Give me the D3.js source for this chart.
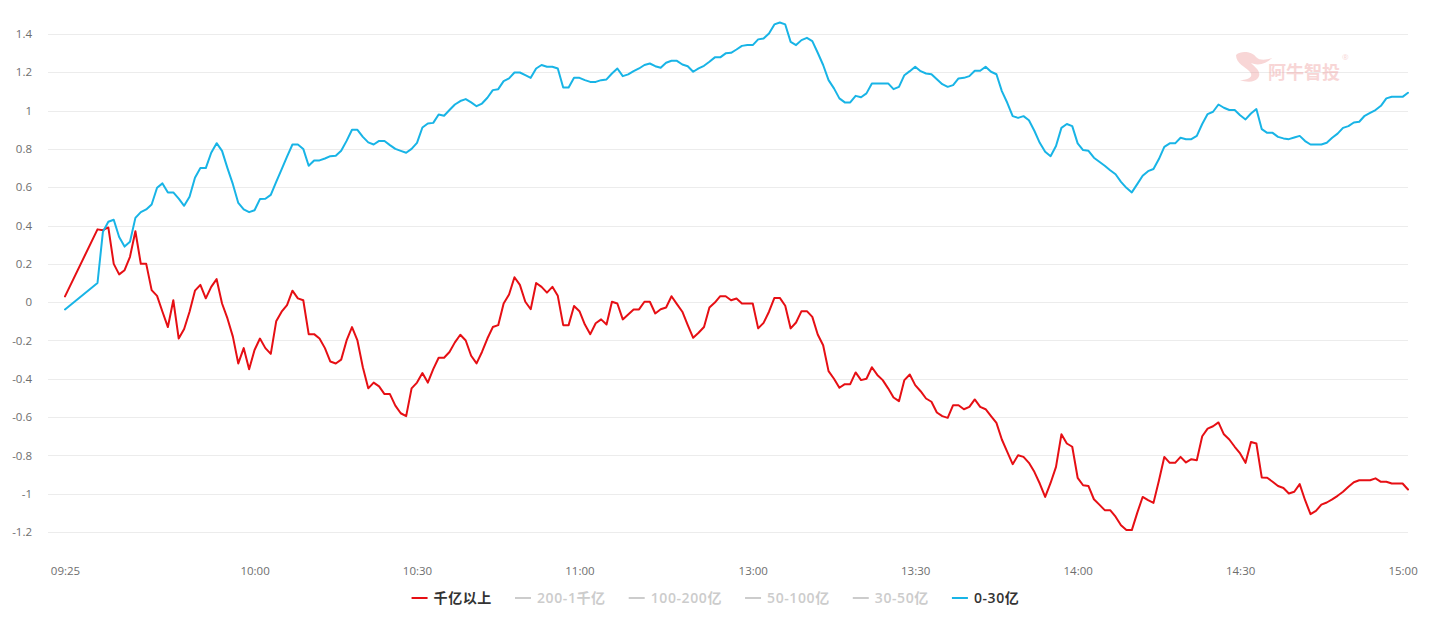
<!DOCTYPE html>
<html><head><meta charset="utf-8">
<script src="https://cdn.jsdelivr.net/npm/d3@7"></script>
<style>body{margin:0;background:#fff}svg{display:block}</style>
</head><body>
<svg id="chart" width="1433" height="623"></svg>
<script>
// ---------- data ----------
const seriesNames = ["千亿以上", "200-1千亿", "100-200亿", "50-100亿", "30-50亿", "0-30亿"];
const seriesActive = [true, false, false, false, false, true];
const seriesColors = ["#e60f14", "#cccccc", "#cccccc", "#cccccc", "#cccccc", "#18b4e6"];

const yTicks = [1.4, 1.2, 1, 0.8, 0.6, 0.4, 0.2, 0, -0.2, -0.4, -0.6, -0.8, -1, -1.2];
const xTickLabels = ["09:25", "10:00", "10:30", "11:00", "13:00", "13:30", "14:00", "14:30", "15:00"];
const xTickSlots = [0, 35, 65, 95, 127, 157, 187, 217, 247];
const slotCount = 249; // minute slots 0..248

// 千亿以上 (one value per minute slot; null = no point)
const bigCap = [0.03, null, null, null, null, null,
  0.38, 0.376, 0.39, 0.20, 0.145, 0.167, 0.237, 0.37, 0.20, 0.20,
  0.063, 0.033, -0.05, -0.13, 0.01, -0.19, -0.14, -0.05, 0.06, 0.09,
  0.02, 0.08, 0.12, -0.007, -0.085, -0.18, -0.32, -0.24, -0.35, -0.25,
  -0.19, -0.24, -0.27, -0.10, -0.05, -0.016, 0.06, 0.02, 0.01, -0.167,
  -0.167, -0.19, -0.24, -0.31, -0.32, -0.30, -0.20, -0.13, -0.20, -0.34,
  -0.45, -0.42, -0.44, -0.48, -0.48, -0.54, -0.58, -0.595, -0.45, -0.42,
  -0.37, -0.42, -0.35, -0.29, -0.29, -0.26, -0.21, -0.17, -0.20, -0.28,
  -0.32, -0.26, -0.19, -0.13, -0.12, -0.007, 0.04, 0.13, 0.09, 0.002,
  -0.037, 0.10, 0.08, 0.05, 0.08, 0.033, -0.12, -0.12, -0.02, -0.047,
  -0.117, -0.167, -0.11, -0.09, -0.117, 0.002, -0.007, -0.09, -0.064, -0.038,
  -0.038, 0.002, 0.002, -0.059, -0.037, -0.028, 0.031, -0.01, -0.05, -0.12,
  -0.186, -0.16, -0.13, -0.028, -0.002, 0.031, 0.031, 0.01, 0.019, -0.007,
  -0.007, -0.007, -0.137, -0.108, -0.05, 0.022, 0.022, -0.019, -0.137, -0.106,
  -0.047, -0.047, -0.077, -0.169, -0.225, -0.36, -0.40, -0.447, -0.428, -0.428,
  -0.367, -0.407, -0.40, -0.34, -0.38, -0.407, -0.45, -0.498, -0.517, -0.407,
  -0.378, -0.433, -0.465, -0.503, -0.52, -0.576, -0.595, -0.604, -0.538, -0.538,
  -0.559, -0.547, -0.508, -0.547, -0.559, -0.595, -0.63, -0.717, -0.782, -0.846,
  -0.799, -0.808, -0.839, -0.886, -0.947, -1.017, -0.944, -0.86, -0.69, -0.738,
  -0.755, -0.917, -0.956, -0.96, -1.029, -1.057, -1.086, -1.086, -1.12, -1.165,
  -1.19, -1.19, -1.10, -1.017, -1.034, -1.048, -0.933, -0.808, -0.839, -0.839,
  -0.808, -0.837, -0.82, -0.825, -0.70, -0.66, -0.648, -0.628, -0.69, -0.717,
  -0.755, -0.79, -0.839, -0.73, -0.738, -0.916, -0.917, -0.938, -0.96, -0.97,
  -0.999, -0.99, -0.95, -1.034, -1.107, -1.09, -1.057, -1.046, -1.03, -1.011,
  -0.99, -0.964, -0.94, -0.93, -0.93, -0.93, -0.92, -0.938, -0.938, -0.947,
  -0.947, -0.947, -0.978];

// 0-30亿
const smallCap = [-0.038, null, null, null, null, null,
  0.10, 0.367, 0.42, 0.43, 0.34, 0.29, 0.315, 0.44, 0.47, 0.484,
  0.51, 0.597, 0.62, 0.573, 0.573, 0.54, 0.503, 0.55, 0.65, 0.70,
  0.70, 0.78, 0.83, 0.79, 0.70, 0.616, 0.518, 0.484, 0.47, 0.48,
  0.538, 0.54, 0.56, 0.628, 0.693, 0.76, 0.823, 0.823, 0.80, 0.712,
  0.74, 0.74, 0.75, 0.762, 0.764, 0.79, 0.842, 0.90, 0.90, 0.863,
  0.834, 0.823, 0.842, 0.841, 0.82, 0.80, 0.79, 0.78, 0.80, 0.832,
  0.912, 0.933, 0.936, 0.98, 0.973, 1.003, 1.032, 1.05, 1.06, 1.043,
  1.023, 1.037, 1.067, 1.107, 1.112, 1.154, 1.168, 1.199, 1.199, 1.185,
  1.171, 1.22, 1.238, 1.229, 1.229, 1.22, 1.121, 1.121, 1.171, 1.171,
  1.159, 1.15, 1.15, 1.159, 1.163, 1.194, 1.22, 1.18, 1.189, 1.206,
  1.22, 1.238, 1.246, 1.232, 1.224, 1.25, 1.26, 1.26, 1.241, 1.232,
  1.203, 1.22, 1.234, 1.255, 1.278, 1.278, 1.299, 1.302, 1.319, 1.338,
  1.342, 1.342, 1.372, 1.377, 1.403, 1.45, 1.46, 1.45, 1.359, 1.342,
  1.368, 1.38, 1.363, 1.302, 1.238, 1.159, 1.116, 1.064, 1.043, 1.043,
  1.077, 1.07, 1.09, 1.142, 1.142, 1.142, 1.142, 1.112, 1.124, 1.185,
  1.206, 1.229, 1.206, 1.194, 1.19, 1.164, 1.138, 1.124, 1.133, 1.168,
  1.171, 1.18, 1.208, 1.208, 1.229, 1.203, 1.19, 1.102, 1.041, 0.971,
  0.962, 0.971, 0.95, 0.895, 0.832, 0.785, 0.762, 0.815, 0.91, 0.93,
  0.919, 0.829, 0.794, 0.79, 0.754, 0.733, 0.712, 0.689, 0.668, 0.628,
  0.597, 0.573, 0.616, 0.66, 0.684, 0.695, 0.747, 0.811, 0.829, 0.829,
  0.858, 0.851, 0.851, 0.868, 0.93, 0.982, 0.994, 1.032, 1.015, 1.003,
  1.003, 0.976, 0.954, 0.985, 1.008, 0.903, 0.884, 0.884, 0.863, 0.855,
  0.851, 0.86, 0.868, 0.841, 0.823, 0.823, 0.823, 0.832, 0.858, 0.88,
  0.91, 0.919, 0.938, 0.942, 0.973, 0.988, 1.003, 1.025, 1.064, 1.072,
  1.072, 1.072, 1.093];

// ---------- layout ----------
const W = 1433, H = 623;
const plot = {left: 48, right: 1408, top: 34, bottom: 532};
const FONT = "'Microsoft YaHei','Open Sans','Noto Sans CJK SC',sans-serif";

const svg = d3.select("#chart");
svg.append("rect").attr("width", W).attr("height", H).attr("fill", "#fff");

const x = d3.scaleLinear().domain([0, slotCount - 1]).range([65, plot.right]);
const y = d3.scaleLinear().domain([-1.2, 1.4]).range([plot.bottom, plot.top]);

// grid lines
svg.append("g").selectAll("line").data(yTicks).join("line")
  .attr("x1", plot.left).attr("x2", plot.right)
  .attr("y1", d => Math.round(y(d)) + 0.5).attr("y2", d => Math.round(y(d)) + 0.5)
  .attr("stroke", "#ececec").attr("stroke-width", 1);

// y axis labels
const yAxis = d3.axisLeft(y).tickValues(yTicks).tickSize(0).tickPadding(0)
  .tickFormat(d => String(+d.toFixed(1)));
const gy = svg.append("g").attr("transform", "translate(32,0)").call(yAxis);
gy.select(".domain").remove();
gy.selectAll("text").attr("fill", "#6e6e6e").style("font-size", "11.5px").style("font-family", FONT);

// x axis labels
const xAxis = d3.axisBottom(x).tickValues(xTickSlots).tickSize(0).tickPadding(0)
  .tickFormat((d, i) => xTickLabels[i]);
const gx = svg.append("g").attr("transform", "translate(0,567)").call(xAxis);
gx.select(".domain").remove();
gx.selectAll("text").attr("fill", "#6e6e6e").style("font-size", "11.5px").style("font-family", FONT);

// watermark
const wm = svg.append("g").attr("opacity", 0.4);
wm.append("path")
  .attr("d", "M1236,55 C1242,50 1252,52 1256,57 C1260,61 1266,60 1272,58 C1266,64 1258,66 1251,63 C1256,68 1262,72 1258,78 C1254,83 1246,82 1240,80 C1248,80 1254,77 1250,72 C1246,67 1236,64 1236,55 Z")
  .attr("fill", "#ee9a9a");
wm.append("text").attr("x", 1268).attr("y", 79).text("阿牛智投")
  .attr("fill", "#ee9a9a").style("font-size", "18px").style("font-weight", "bold").style("font-family", FONT);
wm.append("text").attr("x", 1342).attr("y", 60).text("®")
  .attr("fill", "#ee9a9a").style("font-size", "8px").style("font-family", FONT);

// lines
const line = d3.line().x(d => x(d.i)).y(d => y(d.v));
function drawSeries(values, color) {
  const pts = values.map((v, i) => ({i, v})).filter(d => d.v !== null);
  svg.append("path").datum(pts).attr("d", line)
    .attr("fill", "none").attr("stroke", color).attr("stroke-width", 2)
    .attr("stroke-linejoin", "round").attr("stroke-linecap", "round");
}
drawSeries(bigCap, seriesColors[0]);
drawSeries(smallCap, seriesColors[5]);

// legend
const lg = svg.append("g");
const items = seriesNames.map((name, i) => {
  const g = lg.append("g");
  g.append("line").attr("x1", 0).attr("x2", 16).attr("y1", 0).attr("y2", 0)
    .attr("stroke", seriesActive[i] ? seriesColors[i] : "#cccccc").attr("stroke-width", 2);
  const t = g.append("text").attr("x", 22).attr("y", 0).attr("dy", "0.36em").text(name)
    .attr("fill", seriesActive[i] ? "#333" : "#cccccc")
    .style("font-size", "14px").style("font-weight", "600").style("letter-spacing", "0.6px")
    .style("font-family", FONT);
  return {g, w: 22 + t.node().getComputedTextLength()};
});
const gap = 23;
const total = d3.sum(items, d => d.w) + gap * (items.length - 1);
let cx = W / 2 - total / 2 - 1;
items.forEach(it => { it.g.attr("transform", `translate(${cx},598)`); cx += it.w + gap; });
</script>
</body></html>
